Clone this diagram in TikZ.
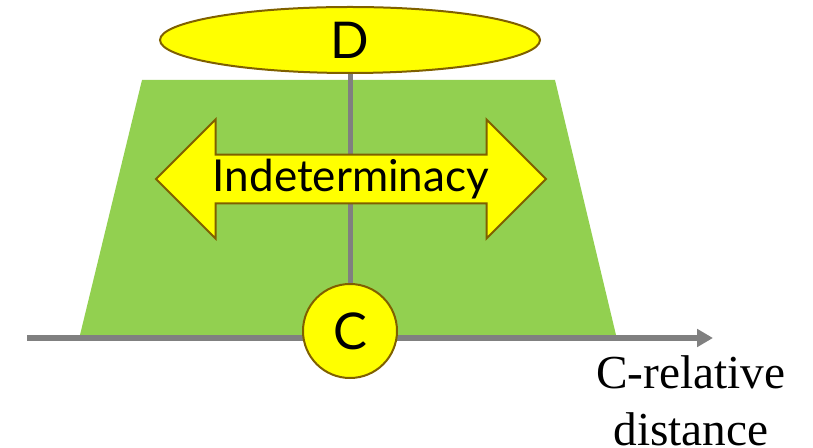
\documentclass[tikz,border=0pt]{standalone}
\usepackage{fontspec}
\usepackage{tikz}
\usetikzlibrary{positioning}
\usetikzlibrary{shapes,shapes.arrows,arrows.meta}
\newfontfamily\labelfont{Lato}
\newfontfamily\axisfont{Liberation Serif}
\definecolor{padgreen}{RGB}{146,208,80}
\definecolor{padyellow}{RGB}{255,255,0}
\definecolor{rimbrown}{RGB}{127,96,0}
\definecolor{axisgray}{RGB}{128,128,128}

\begin{document}
\begin{tikzpicture}[x=0.75pt,y=-0.75pt]
\tikzstyle{region}=[fill=padgreen]
\tikzstyle{pole}=[draw=rimbrown, line width=1.5pt, fill=padyellow, inner sep=0pt, font=\labelfont\fontsize{38}{40}\selectfont]
\tikzstyle{spread}=[double arrow, draw=rimbrown, line width=1.5pt, fill=padyellow, inner sep=0pt, minimum height=292.5pt, minimum width=89.25pt, double arrow head extend=22.5pt, double arrow tip angle=90, font=\labelfont\fontsize{33}{36}\selectfont]
\tikzstyle{axis}=[-{Triangle[length=12pt,width=13pt]}, axisgray, line width=4.5pt]
\tikzstyle{link}=[axisgray, line width=3.75pt]
\useasboundingbox (0,0) rectangle (813,448);
	\fill[region] (142,80) -- (555,80) -- (616,335) -- (80,335) -- cycle;
	\coordinate (o) at (27,338);
	\coordinate (far) at (713,338);
	\draw[axis] (o) -- (far);
	\node[pole, ellipse, minimum width=285pt, minimum height=49.5pt] (D) at (350,40) {D};
	\node[pole, circle, minimum size=70.5pt] (C) at (350,331) {C};
	\draw[link] (D) -- (C);
	\node[spread] (ind) at (351,179) {Indeterminacy};
	\node[anchor=north, inner sep=0pt, align=center, font=\axisfont\fontsize{35.5}{42.75}\selectfont] (dist) at (691,355) {C-relative\\distance};
\end{tikzpicture}
\end{document}
